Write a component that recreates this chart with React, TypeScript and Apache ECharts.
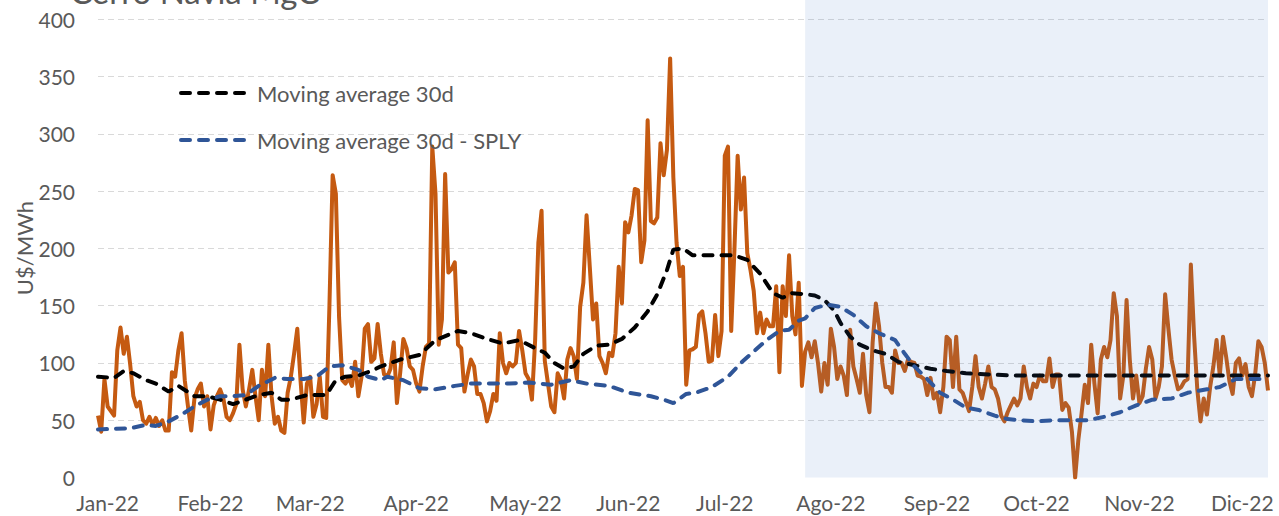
import React, { useEffect, useRef } from "react";
import * as echarts from "echarts";

// Daily marginal cost, Cerro Navia (U$/MWh), 365 days
const priceDaily: number[] = [
  54, 40, 86, 62, 58, 54, 111, 131, 108, 123,
  99, 71, 62, 66, 50, 47, 53, 46, 52, 45,
  50, 41, 41, 92, 88, 111, 126, 85, 62, 41,
  69, 77, 82, 62, 71, 42, 63, 71, 77, 69,
  53, 50, 56, 64, 116, 77, 62, 77, 94, 71,
  50, 94, 71, 116, 71, 47, 53, 41, 39, 74,
  88, 108, 130, 85, 48, 82, 88, 53, 64, 88,
  53, 52, 150, 264, 248, 140, 85, 82, 87, 80,
  101, 71, 88, 130, 134, 101, 104, 134,
  108, 90, 88, 95, 118, 65, 91, 121, 113, 97,
  94, 82, 75, 97, 114, 117, 289, 248, 116, 138,
  265, 179, 182, 188, 116, 113, 75, 90, 103, 97,
  73, 73, 65, 49, 58, 73, 67, 126, 100, 91,
  100, 97, 100, 128, 111, 91, 86, 68, 120, 205,
  233, 102, 82, 62, 57, 91,
  85, 69, 103, 113, 106, 86, 149, 170, 229, 184,
  138, 152, 106, 100, 91, 109, 106, 126, 184, 152,
  223, 214, 229, 252, 251, 188, 207, 312, 224, 222,
  227, 292, 264, 286, 366, 262, 205, 176, 184, 81,
  111, 112, 114, 142, 145, 126, 101, 102, 142, 106,
  128, 281, 289, 128, 199, 281, 234, 262, 196, 181,
  163, 126, 144, 126, 138, 132, 132, 167, 92, 167,
  141, 194, 141, 125, 170, 80,
  110, 118, 105, 119, 100, 75, 100, 81, 130, 114,
  86, 97, 89, 72, 129, 97, 86, 74, 108, 72,
  57, 118, 152, 132, 100, 79, 79, 74, 111, 100,
  100, 93, 103, 101, 100, 89, 88, 86, 72, 87,
  69, 74, 57, 79, 123, 120, 79, 123, 77, 74,
  66, 58, 79, 106, 79, 69, 82, 97, 79, 77,
  69, 54, 49, 57, 63, 69, 63, 69, 97, 79,
  69, 82, 79, 89, 84, 84, 104, 79, 90, 90,
  59, 65, 61, 40, 0, 33, 56, 81, 65, 116,
  82, 56, 103, 114, 105, 120, 161, 141, 69, 89,
  155, 103, 69, 89, 65, 71, 95, 114, 103, 69,
  79, 97, 160, 130, 103, 89, 77, 79, 84, 86,
  186, 124, 77, 49, 69, 55, 79, 97, 120, 89,
  123, 105, 84, 73, 100, 104, 89, 99, 79, 71,
  90, 119, 114, 100, 76,
];

// Moving average 30d (read at day indices)
const ma30Days: number[] = [
  0, 5, 8, 11, 15, 18, 22, 25, 30, 34, 38, 42, 46, 50, 54, 57, 60, 65, 71, 74,
  77, 81, 85, 88, 94, 100, 105, 112, 116, 121, 126, 131, 136, 139, 142, 145, 148, 151, 155, 159,
  163, 167, 171, 174, 177, 179, 182, 185, 189, 194, 198, 202, 206, 210, 213, 216, 220, 223, 226, 229,
  231, 234, 237, 241, 245, 249, 254, 259, 264, 270, 277, 285, 364,
];
const ma30Values: number[] = [
  88, 87, 93, 91, 85, 82, 75, 80, 71, 71, 68, 64, 68, 72, 74, 68, 68, 72, 72, 85,
  88, 89, 93, 97, 103, 107, 120, 128, 126, 121, 117, 120, 113, 109, 100, 95, 97, 108, 115, 116,
  121, 131, 145, 160, 181, 199, 200, 194, 194, 194, 194, 190, 178, 161, 157, 161, 160, 159, 155, 146,
  135, 123, 116, 111, 108, 101, 98, 95, 93, 91, 90, 89, 89,
];

// Moving average 30d - same period last year
const maSplyDays: number[] = [
  0, 10, 15, 18, 22, 26, 30, 34, 38, 42, 46, 50, 55, 59, 64, 68, 72, 76, 81, 84,
  88, 90, 95, 100, 105, 111, 116, 121, 128, 134, 141, 147, 152, 159, 165, 172, 176, 179, 183, 186,
  191, 196, 200, 204, 208, 212, 215, 218, 220, 223, 227, 231, 235, 239, 243, 248, 251, 254, 258, 262,
  266, 270, 274, 279, 283, 287, 292, 297, 302, 308, 313, 318, 323, 328, 334, 339, 345, 349, 354, 360,
  364,
];
const maSplyValues: number[] = [
  42, 43, 46, 45, 49, 55, 62, 68, 71, 71, 72, 80, 87, 86, 86, 88, 97, 98, 94, 88,
  85, 88, 85, 78, 77, 80, 82, 82, 82, 83, 81, 85, 82, 80, 74, 71, 68, 65, 73, 74,
  79, 88, 100, 110, 120, 128, 129, 137, 139, 148, 151, 149, 142, 132, 126, 120, 108, 97, 86, 74,
  68, 61, 59, 54, 51, 50, 49, 50, 50, 50, 53, 57, 63, 68, 69, 74, 77, 79, 86, 86,
  86,
];

const monthLabels: string[] = [
  "Jan-22", "Feb-22", "Mar-22", "Apr-22", "May-22", "Jun-22",
  "Jul-22", "Ago-22", "Sep-22", "Oct-22", "Nov-22", "Dic-22",
];
const monthLabelDays: number[] = [3, 35, 66, 99, 133, 165, 195, 228, 261, 292, 324, 356];

const shadeStartDay = 220;

const seriesNames = ["Costo marginal", "Moving average 30d", "Moving average 30d - SPLY"];

export default function App() {
  const ref = useRef<HTMLDivElement>(null);

  useEffect(() => {
    document.body.style.margin = "0";
    const chart = echarts.init(ref.current as HTMLDivElement, null, { renderer: "svg" });
    const font = "Lato";
    const gray = "#595959";
    const days = priceDaily.map((_, i) => String(i));
    const dash = [9, 9];

    const option: any = {
      animation: false,
      textStyle: { fontFamily: font },
      grid: { left: 98, right: 11, top: 0, bottom: 38.5, containLabel: false },
      xAxis: {
        type: "category",
        data: days,
        boundaryGap: false,
        axisLine: { show: false },
        axisTick: { show: false },
        splitLine: { show: false },
        axisLabel: {
          interval: (i: number) => monthLabelDays.includes(i),
          formatter: (v: string) => {
            const k = monthLabelDays.indexOf(Number(v));
            return k >= 0 ? monthLabels[k] : "";
          },
          color: gray,
          fontSize: 21,
          fontFamily: font,
          margin: 14,
        },
      },
      yAxis: {
        type: "value",
        min: 0,
        max: 417,
        interval: 50,
        axisLine: { show: false },
        axisTick: { show: false },
        axisLabel: {
          color: gray,
          fontSize: 21,
          fontFamily: font,
          margin: 23,
          showMaxLabel: false,
          formatter: (v: number) => (v > 400 ? "" : String(v)),
        },
        splitLine: {
          show: true,
          showMinLine: false,
          showMaxLine: false,
          lineStyle: { color: "#d9d9d9", type: [6, 4], width: 1 },
        },
      },
      legend: {
        orient: "vertical",
        left: 174,
        top: 77,
        itemWidth: 71,
        itemHeight: 14,
        itemGap: 25,
        itemStyle: { opacity: 0 },
        textStyle: { color: gray, fontSize: 22, fontFamily: font },
        data: [
          {
            name: seriesNames[1],
            itemStyle: { opacity: 0 },
            lineStyle: { color: "#000000", width: 4, type: dash, cap: "round", opacity: 1 },
          },
          {
            name: seriesNames[2],
            itemStyle: { opacity: 0 },
            lineStyle: { color: "#2F5597", width: 4, type: dash, cap: "round", opacity: 1 },
          },
        ],
      },
      series: [
        {
          name: seriesNames[0],
          type: "line",
          data: priceDaily,
          symbol: "none",
          z: 2,
          lineStyle: { color: "#C55A11", width: 4, join: "round" },
          itemStyle: { color: "#C55A11" },
          markArea: {
            silent: true,
            z: 4,
            itemStyle: { color: "rgba(68,114,196,0.11)" },
            data: [[{ xAxis: days[shadeStartDay] }, { xAxis: days[days.length - 1] }]],
          },
        },
        {
          name: seriesNames[1],
          type: "line",
          data: ma30Days.map((d, i) => [String(d), ma30Values[i]]),
          symbol: "none",
          z: 3,
          lineStyle: { color: "#000000", width: 4, type: dash, cap: "round" },
          itemStyle: { color: "#000000" },
        },
        {
          name: seriesNames[2],
          type: "line",
          data: maSplyDays.map((d, i) => [String(d), maSplyValues[i]]),
          symbol: "none",
          z: 3,
          lineStyle: { color: "#2F5597", width: 4, type: dash, cap: "round" },
          itemStyle: { color: "#2F5597" },
        },
      ],
      graphic: [
        {
          type: "text",
          x: 70,
          y: 7,
          style: {
            text: "Cerro Navia MgC",
            fill: gray,
            fontSize: 33,
            fontFamily: font,
            align: "left",
            verticalAlign: "bottom",
          },
        },
        {
          type: "text",
          x: 24,
          y: 248,
          rotation: Math.PI / 2,
          style: {
            text: "U$/MWh",
            fill: gray,
            fontSize: 22,
            fontFamily: font,
            align: "center",
            verticalAlign: "middle",
          },
        },
      ],
    };

    chart.setOption(option);
    return () => chart.dispose();
  }, []);

  return (
    <div
      ref={ref}
      style={{ position: "absolute", left: 0, top: 0, width: 1279, height: 516 }}
    />
  );
}
